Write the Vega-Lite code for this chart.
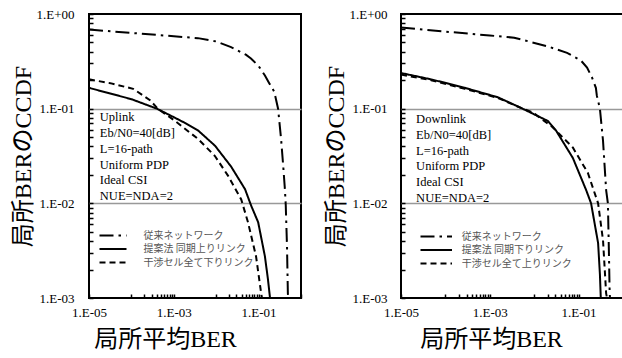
{
  "$schema": "https://vega.github.io/schema/vega-lite/v6.json",
  "background": "white",
  "padding": {"left": 10, "top": 7, "right": 0, "bottom": 0},
  "config": {
    "font": "Liberation Serif, serif",
    "view": {"stroke": "black", "strokeWidth": 2},
    "axis": {
      "labelFont": "Liberation Serif, serif", "labelFontSize": 13, "labelColor": "black",
      "titleFont": "Liberation Serif, Noto Sans CJK JP", "titleFontSize": 24, "titleFontWeight": "normal", "titleColor": "black",
      "domain": false, "tickColor": "black", "tickWidth": 1.5, "tickSize": -4,
      "labelFlush": false, "labelOverlap": false
    },
    "legend": {
      "labelFont": "Noto Sans CJK JP", "labelFontSize": 10, "labelColor": "#555555",
      "symbolSize": 81, "symbolStrokeWidth": 2, "symbolStrokeColor": "black",
      "rowPadding": 2.5, "padding": 0
    }
  },
  "datasets": {
    "up": [
      {"ber": 0.00001, "ccdf": 0.684, "series": "従来ネットワーク"},
      {"ber": 0.0001, "ccdf": 0.631, "series": "従来ネットワーク"},
      {"ber": 0.001, "ccdf": 0.582, "series": "従来ネットワーク"},
      {"ber": 0.0037, "ccdf": 0.556, "series": "従来ネットワーク"},
      {"ber": 0.01, "ccdf": 0.513, "series": "従来ネットワーク"},
      {"ber": 0.0224, "ccdf": 0.447, "series": "従来ネットワーク"},
      {"ber": 0.05, "ccdf": 0.372, "series": "従来ネットワーク"},
      {"ber": 0.066, "ccdf": 0.339, "series": "従来ネットワーク"},
      {"ber": 0.1, "ccdf": 0.282, "series": "従来ネットワーク"},
      {"ber": 0.141, "ccdf": 0.224, "series": "従来ネットワーク"},
      {"ber": 0.178, "ccdf": 0.186, "series": "従来ネットワーク"},
      {"ber": 0.234, "ccdf": 0.151, "series": "従来ネットワーク"},
      {"ber": 0.288, "ccdf": 0.1, "series": "従来ネットワーク"},
      {"ber": 0.339, "ccdf": 0.0479, "series": "従来ネットワーク"},
      {"ber": 0.38, "ccdf": 0.0251, "series": "従来ネットワーク"},
      {"ber": 0.417, "ccdf": 0.0141, "series": "従来ネットワーク"},
      {"ber": 0.437, "ccdf": 0.00955, "series": "従来ネットワーク"},
      {"ber": 0.468, "ccdf": 0.00347, "series": "従来ネットワーク"},
      {"ber": 0.49, "ccdf": 0.00112, "series": "従来ネットワーク"},
      {"ber": 0.5, "ccdf": 0.001, "series": "従来ネットワーク"},

      {"ber": 0.00001, "ccdf": 0.166, "series": "提案法 同期上りリンク"},
      {"ber": 0.0001, "ccdf": 0.126, "series": "提案法 同期上りリンク"},
      {"ber": 0.000398, "ccdf": 0.1, "series": "提案法 同期上りリンク"},
      {"ber": 0.001, "ccdf": 0.0813, "series": "提案法 同期上りリンク"},
      {"ber": 0.00182, "ccdf": 0.0708, "series": "提案法 同期上りリンク"},
      {"ber": 0.00372, "ccdf": 0.0589, "series": "提案法 同期上りリンク"},
      {"ber": 0.00933, "ccdf": 0.0407, "series": "提案法 同期上りリンク"},
      {"ber": 0.0224, "ccdf": 0.0245, "series": "提案法 同期上りリンク"},
      {"ber": 0.0479, "ccdf": 0.0141, "series": "提案法 同期上りリンク"},
      {"ber": 0.0661, "ccdf": 0.00955, "series": "提案法 同期上りリンク"},
      {"ber": 0.0977, "ccdf": 0.00631, "series": "提案法 同期上りリンク"},
      {"ber": 0.141, "ccdf": 0.00275, "series": "提案法 同期上りリンク"},
      {"ber": 0.166, "ccdf": 0.00158, "series": "提案法 同期上りリンク"},
      {"ber": 0.186, "ccdf": 0.001, "series": "提案法 同期上りリンク"},

      {"ber": 0.00001, "ccdf": 0.204, "series": "干渉セル全て下りリンク"},
      {"ber": 0.0000316, "ccdf": 0.186, "series": "干渉セル全て下りリンク"},
      {"ber": 0.00011, "ccdf": 0.162, "series": "干渉セル全て下りリンク"},
      {"ber": 0.000275, "ccdf": 0.123, "series": "干渉セル全て下りリンク"},
      {"ber": 0.000417, "ccdf": 0.1, "series": "干渉セル全て下りリンク"},
      {"ber": 0.001, "ccdf": 0.0759, "series": "干渉セル全て下りリンク"},
      {"ber": 0.00372, "ccdf": 0.0479, "series": "干渉セル全て下りリンク"},
      {"ber": 0.00933, "ccdf": 0.0316, "series": "干渉セル全て下りリンク"},
      {"ber": 0.0191, "ccdf": 0.0195, "series": "干渉セル全て下りリンク"},
      {"ber": 0.0389, "ccdf": 0.011, "series": "干渉セル全て下りリンク"},
      {"ber": 0.0562, "ccdf": 0.00631, "series": "干渉セル全て下りリンク"},
      {"ber": 0.0871, "ccdf": 0.00275, "series": "干渉セル全て下りリンク"},
      {"ber": 0.115, "ccdf": 0.00112, "series": "干渉セル全て下りリンク"},
      {"ber": 0.12, "ccdf": 0.001, "series": "干渉セル全て下りリンク"}
    ],
    "down": [
      {"ber": 0.00001, "ccdf": 0.718, "series": "従来ネットワーク"},
      {"ber": 0.0001, "ccdf": 0.652, "series": "従来ネットワーク"},
      {"ber": 0.001, "ccdf": 0.593, "series": "従来ネットワーク"},
      {"ber": 0.00355, "ccdf": 0.562, "series": "従来ネットワーク"},
      {"ber": 0.0195, "ccdf": 0.457, "series": "従来ネットワーク"},
      {"ber": 0.055, "ccdf": 0.389, "series": "従来ネットワーク"},
      {"ber": 0.112, "ccdf": 0.324, "series": "従来ネットワーク"},
      {"ber": 0.155, "ccdf": 0.272, "series": "従来ネットワーク"},
      {"ber": 0.2, "ccdf": 0.214, "series": "従来ネットワーク"},
      {"ber": 0.245, "ccdf": 0.166, "series": "従来ネットワーク"},
      {"ber": 0.257, "ccdf": 0.138, "series": "従来ネットワーク"},
      {"ber": 0.302, "ccdf": 0.1, "series": "従来ネットワーク"},
      {"ber": 0.355, "ccdf": 0.0457, "series": "従来ネットワーク"},
      {"ber": 0.417, "ccdf": 0.0138, "series": "従来ネットワーク"},
      {"ber": 0.457, "ccdf": 0.01, "series": "従来ネットワーク"},
      {"ber": 0.479, "ccdf": 0.00347, "series": "従来ネットワーク"},
      {"ber": 0.501, "ccdf": 0.00112, "series": "従来ネットワーク"},
      {"ber": 0.51, "ccdf": 0.001, "series": "従来ネットワーク"},

      {"ber": 0.00001, "ccdf": 0.238, "series": "提案法 同期下りリンク"},
      {"ber": 0.0000479, "ccdf": 0.204, "series": "提案法 同期下りリンク"},
      {"ber": 0.000275, "ccdf": 0.166, "series": "提案法 同期下りリンク"},
      {"ber": 0.00151, "ccdf": 0.132, "series": "提案法 同期下りリンク"},
      {"ber": 0.00501, "ccdf": 0.102, "series": "提案法 同期下りリンク"},
      {"ber": 0.0204, "ccdf": 0.0741, "series": "提案法 同期下りリンク"},
      {"ber": 0.0309, "ccdf": 0.0589, "series": "提案法 同期下りリンク"},
      {"ber": 0.0741, "ccdf": 0.0302, "series": "提案法 同期下りリンク"},
      {"ber": 0.148, "ccdf": 0.0138, "series": "提案法 同期下りリンク"},
      {"ber": 0.191, "ccdf": 0.01, "series": "提案法 同期下りリンク"},
      {"ber": 0.275, "ccdf": 0.0038, "series": "提案法 同期下りリンク"},
      {"ber": 0.302, "ccdf": 0.00178, "series": "提案法 同期下りリンク"},
      {"ber": 0.316, "ccdf": 0.001, "series": "提案法 同期下りリンク"},

      {"ber": 0.00001, "ccdf": 0.229, "series": "干渉セル全て上りリンク"},
      {"ber": 0.0000479, "ccdf": 0.2, "series": "干渉セル全て上りリンク"},
      {"ber": 0.000275, "ccdf": 0.162, "series": "干渉セル全て上りリンク"},
      {"ber": 0.00151, "ccdf": 0.13, "series": "干渉セル全て上りリンク"},
      {"ber": 0.00501, "ccdf": 0.102, "series": "干渉セル全て上りリンク"},
      {"ber": 0.00933, "ccdf": 0.0912, "series": "干渉セル全て上りリンク"},
      {"ber": 0.0251, "ccdf": 0.0646, "series": "干渉セル全て上りリンク"},
      {"ber": 0.0741, "ccdf": 0.0389, "series": "干渉セル全て上りリンク"},
      {"ber": 0.162, "ccdf": 0.0209, "series": "干渉セル全て上りリンク"},
      {"ber": 0.275, "ccdf": 0.01, "series": "干渉セル全て上りリンク"},
      {"ber": 0.355, "ccdf": 0.00407, "series": "干渉セル全て上りリンク"},
      {"ber": 0.417, "ccdf": 0.00112, "series": "干渉セル全て上りリンク"},
      {"ber": 0.437, "ccdf": 0.001, "series": "干渉セル全て上りリンク"}
    ]
  },
  "spacing": 20,
  "resolve": {"scale": {"strokeDash": "independent"}, "legend": {"strokeDash": "independent"}},
  "hconcat": [
    {
      "width": 212,
      "height": 284,
      "layer": [
        {
          "data": {"name": "up"},
          "mark": {"type": "line", "color": "black", "strokeWidth": 2},
          "encoding": {
            "x": {
              "field": "ber", "type": "quantitative",
              "scale": {"type": "log", "domain": [0.00001, 1], "nice": false},
              "axis": {
                "title": "局所平均BER", "titleX": 76, "titlePadding": 8, "labelPadding": 12,
                "values": [0.00001, 0.0001, 0.0002, 0.0003, 0.0004, 0.0005, 0.0006, 0.0007, 0.0008, 0.0009, 0.001, 0.01, 0.02, 0.03, 0.04, 0.05, 0.06, 0.07, 0.08, 0.09, 0.1, 1],
                "labelExpr": "datum.value == 0.00001 ? '1.E-05' : datum.value == 0.001 ? '1.E-03' : datum.value == 0.1 ? '1.E-01' : ''",
                "grid": false
              }
            },
            "y": {
              "field": "ccdf", "type": "quantitative",
              "scale": {"type": "log", "domain": [0.001, 1], "nice": false},
              "axis": {
                "title": "局所BERのCCDF", "titlePadding": 0, "labelPadding": 19,
                "values": [0.001, 0.002, 0.003, 0.004, 0.005, 0.006, 0.007, 0.008, 0.009, 0.01, 0.02, 0.03, 0.04, 0.05, 0.06, 0.07, 0.08, 0.09, 0.1, 0.2, 0.3, 0.4, 0.5, 0.6, 0.7, 0.8, 0.9, 1],
                "labelExpr": "datum.value == 1 ? '1.E+00' : datum.value == 0.1 ? '1.E-01' : datum.value == 0.01 ? '1.E-02' : datum.value == 0.001 ? '1.E-03' : ''",
                "grid": true, "gridColor": "#999999", "gridWidth": 1.5,
                "gridOpacity": {"condition": {"test": "datum.value == 0.1 || datum.value == 0.01", "value": 1}, "value": 0}
              }
            },
            "strokeDash": {
              "field": "series", "type": "nominal",
              "scale": {"domain": ["従来ネットワーク", "提案法 同期上りリンク", "干渉セル全て下りリンク"], "range": [[14, 5, 2.5, 5], [1, 0], [6, 4]]},
              "legend": {"title": null, "orient": "none", "legendX": 11, "legendY": 216, "symbolType": "M-3,0H3", "symbolOffset": 7.5, "labelOffset": 25}
            }
          }
        },
        {
          "data": {"values": [{"note": ["Uplink", "Eb/N0=40[dB]", "L=16-path", "Uniform PDP", "Ideal CSI", "NUE=NDA=2"]}]},
          "mark": {"type": "text", "align": "left", "baseline": "alphabetic", "font": "Liberation Serif, serif", "fontSize": 12.5, "lineHeight": 15.8, "color": "black"},
          "encoding": {
            "x": {"datum": 0.000018, "type": "quantitative"},
            "y": {"datum": 0.0736, "type": "quantitative"},
            "text": {"field": "note"}
          }
        }
      ]
    },
    {
      "width": 222,
      "height": 284,
      "layer": [
        {
          "data": {"name": "down"},
          "mark": {"type": "line", "color": "black", "strokeWidth": 2},
          "encoding": {
            "x": {
              "field": "ber", "type": "quantitative",
              "scale": {"type": "log", "domain": [0.00001, 1], "nice": false},
              "axis": {
                "title": "局所平均BER", "titleX": 90, "titlePadding": 8, "labelPadding": 12,
                "values": [0.00001, 0.0001, 0.0002, 0.0003, 0.0004, 0.0005, 0.0006, 0.0007, 0.0008, 0.0009, 0.001, 0.01, 0.02, 0.03, 0.04, 0.05, 0.06, 0.07, 0.08, 0.09, 0.1, 1],
                "labelExpr": "datum.value == 0.00001 ? '1.E-05' : datum.value == 0.001 ? '1.E-03' : datum.value == 0.1 ? '1.E-01' : ''",
                "grid": false
              }
            },
            "y": {
              "field": "ccdf", "type": "quantitative",
              "scale": {"type": "log", "domain": [0.001, 1], "nice": false},
              "axis": {
                "title": "局所BERのCCDF", "titlePadding": 0, "labelPadding": 18,
                "values": [0.001, 0.002, 0.003, 0.004, 0.005, 0.006, 0.007, 0.008, 0.009, 0.01, 0.02, 0.03, 0.04, 0.05, 0.06, 0.07, 0.08, 0.09, 0.1, 0.2, 0.3, 0.4, 0.5, 0.6, 0.7, 0.8, 0.9, 1],
                "labelExpr": "datum.value == 1 ? '1.E+00' : datum.value == 0.1 ? '1.E-01' : datum.value == 0.01 ? '1.E-02' : datum.value == 0.001 ? '1.E-03' : ''",
                "grid": true, "gridColor": "#999999", "gridWidth": 1.5,
                "gridOpacity": {"condition": {"test": "datum.value == 0.1 || datum.value == 0.01", "value": 1}, "value": 0}
              }
            },
            "strokeDash": {
              "field": "series", "type": "nominal",
              "scale": {"domain": ["従来ネットワーク", "提案法 同期下りリンク", "干渉セル全て上りリンク"], "range": [[14, 5, 2.5, 5], [1, 0], [6, 4]]},
              "legend": {"title": null, "orient": "none", "legendX": 20, "legendY": 217, "symbolType": "M-3.5,0H3.5", "symbolOffset": 9.75, "labelOffset": 20}
            }
          }
        },
        {
          "data": {"values": [{"note": ["Downlink", "Eb/N0=40[dB]", "L=16-path", "Uniform PDP", "Ideal CSI", "NUE=NDA=2"]}]},
          "mark": {"type": "text", "align": "left", "baseline": "alphabetic", "font": "Liberation Serif, serif", "fontSize": 12.5, "lineHeight": 15.8, "color": "black"},
          "encoding": {
            "x": {"datum": 0.0000219, "type": "quantitative"},
            "y": {"datum": 0.0704, "type": "quantitative"},
            "text": {"field": "note"}
          }
        }
      ]
    }
  ]
}
